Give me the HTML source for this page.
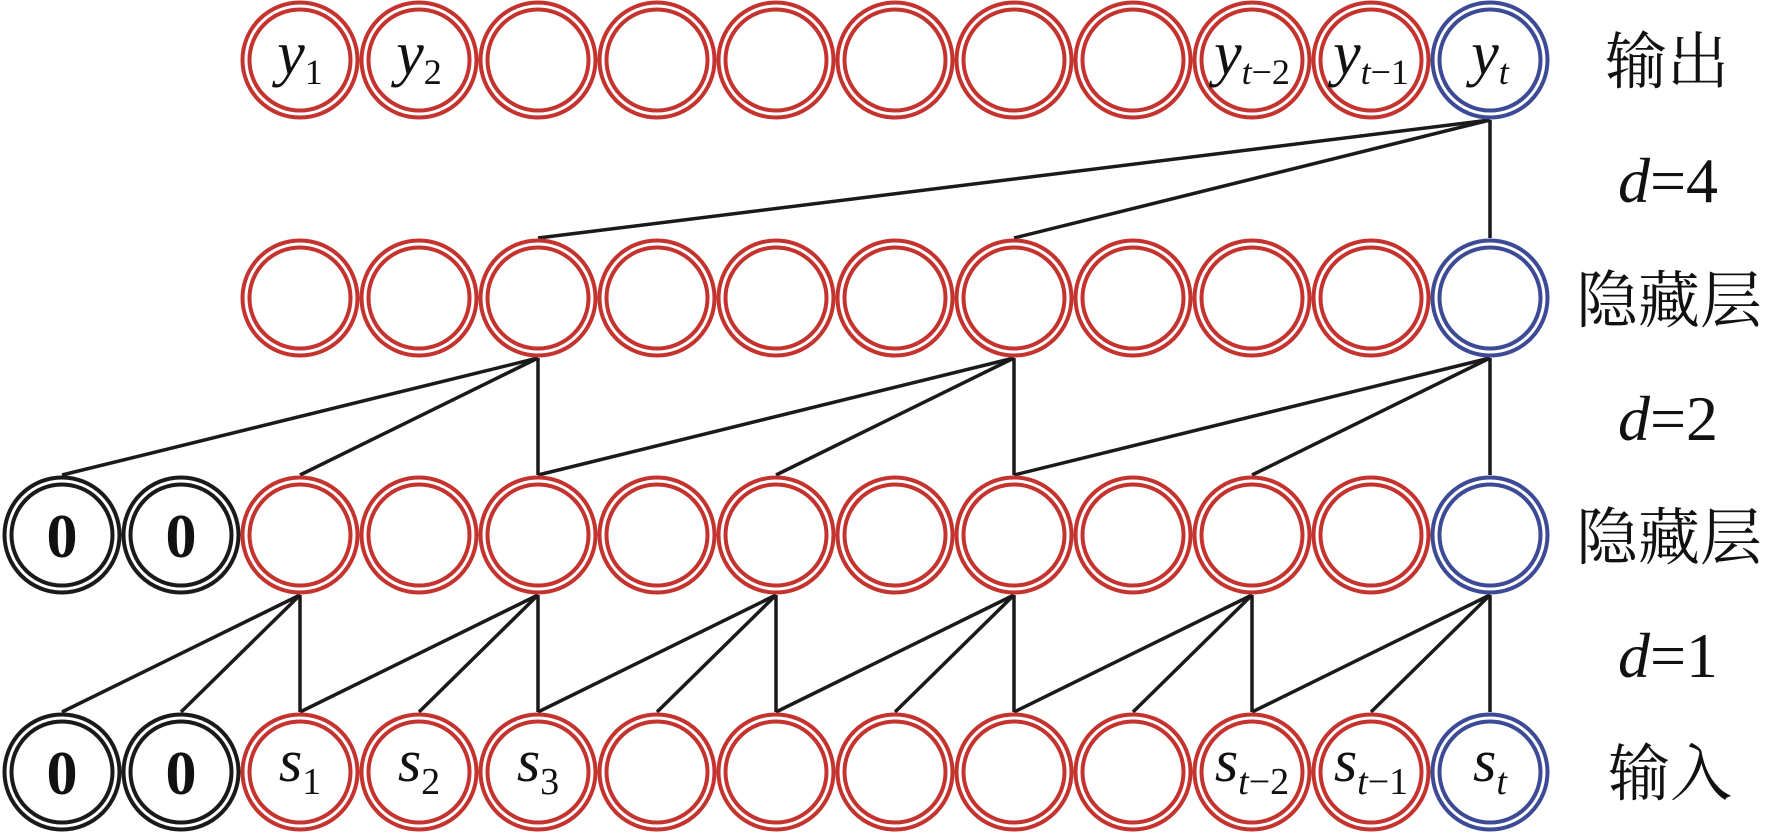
<!DOCTYPE html>
<html><head><meta charset="utf-8"><style>html,body{margin:0;padding:0;background:#fff;}svg{display:block;}</style></head>
<body>
<svg width="1766" height="833" viewBox="0 0 1766 833" xmlns="http://www.w3.org/2000/svg" font-family="'Liberation Serif', serif">
<defs>
<g id="cr"><circle r="57.5" fill="none" stroke="#c4332e" stroke-width="4"/><circle r="50.5" fill="none" stroke="#c4332e" stroke-width="4"/></g>
<g id="cb"><circle r="57.5" fill="none" stroke="#3d4a96" stroke-width="4"/><circle r="50.5" fill="none" stroke="#3d4a96" stroke-width="4"/></g>
<g id="ck"><circle r="57.5" fill="none" stroke="#1a1a1a" stroke-width="4"/><circle r="50.5" fill="none" stroke="#1a1a1a" stroke-width="4"/></g>
</defs>
<g stroke="#1a1a1a" stroke-width="3.5" fill="none">
<line x1="1490" y1="120" x2="538" y2="238"/>
<line x1="1490" y1="120" x2="1014" y2="238"/>
<line x1="1490" y1="120" x2="1490" y2="238"/>
<line x1="538" y1="358" x2="62" y2="475"/>
<line x1="538" y1="358" x2="300" y2="475"/>
<line x1="538" y1="358" x2="538" y2="475"/>
<line x1="1014" y1="358" x2="538" y2="475"/>
<line x1="1014" y1="358" x2="776" y2="475"/>
<line x1="1014" y1="358" x2="1014" y2="475"/>
<line x1="1490" y1="358" x2="1014" y2="475"/>
<line x1="1490" y1="358" x2="1252" y2="475"/>
<line x1="1490" y1="358" x2="1490" y2="475"/>
<line x1="300" y1="595" x2="62" y2="712"/><line x1="300" y1="595" x2="181" y2="712"/><line x1="300" y1="595" x2="300" y2="712"/>
<line x1="538" y1="595" x2="300" y2="712"/><line x1="538" y1="595" x2="419" y2="712"/><line x1="538" y1="595" x2="538" y2="712"/>
<line x1="776" y1="595" x2="538" y2="712"/><line x1="776" y1="595" x2="657" y2="712"/><line x1="776" y1="595" x2="776" y2="712"/>
<line x1="1014" y1="595" x2="776" y2="712"/><line x1="1014" y1="595" x2="895" y2="712"/><line x1="1014" y1="595" x2="1014" y2="712"/>
<line x1="1252" y1="595" x2="1014" y2="712"/><line x1="1252" y1="595" x2="1133" y2="712"/><line x1="1252" y1="595" x2="1252" y2="712"/>
<line x1="1490" y1="595" x2="1252" y2="712"/><line x1="1490" y1="595" x2="1371" y2="712"/><line x1="1490" y1="595" x2="1490" y2="712"/>
</g>
<g>
<use href="#cr" x="300" y="60"/><use href="#cr" x="419" y="60"/><use href="#cr" x="538" y="60"/><use href="#cr" x="657" y="60"/><use href="#cr" x="776" y="60"/><use href="#cr" x="895" y="60"/><use href="#cr" x="1014" y="60"/><use href="#cr" x="1133" y="60"/><use href="#cr" x="1252" y="60"/><use href="#cr" x="1371" y="60"/><use href="#cb" x="1490" y="60"/>
<use href="#cr" x="300" y="298"/><use href="#cr" x="419" y="298"/><use href="#cr" x="538" y="298"/><use href="#cr" x="657" y="298"/><use href="#cr" x="776" y="298"/><use href="#cr" x="895" y="298"/><use href="#cr" x="1014" y="298"/><use href="#cr" x="1133" y="298"/><use href="#cr" x="1252" y="298"/><use href="#cr" x="1371" y="298"/><use href="#cb" x="1490" y="298"/>
<use href="#ck" x="62" y="535"/><use href="#ck" x="181" y="535"/>
<use href="#cr" x="300" y="535"/><use href="#cr" x="419" y="535"/><use href="#cr" x="538" y="535"/><use href="#cr" x="657" y="535"/><use href="#cr" x="776" y="535"/><use href="#cr" x="895" y="535"/><use href="#cr" x="1014" y="535"/><use href="#cr" x="1133" y="535"/><use href="#cr" x="1252" y="535"/><use href="#cr" x="1371" y="535"/><use href="#cb" x="1490" y="535"/>
<use href="#ck" x="62" y="772"/><use href="#ck" x="181" y="772"/>
<use href="#cr" x="300" y="772"/><use href="#cr" x="419" y="772"/><use href="#cr" x="538" y="772"/><use href="#cr" x="657" y="772"/><use href="#cr" x="776" y="772"/><use href="#cr" x="895" y="772"/><use href="#cr" x="1014" y="772"/><use href="#cr" x="1133" y="772"/><use href="#cr" x="1252" y="772"/><use href="#cr" x="1371" y="772"/><use href="#cb" x="1490" y="772"/>
</g>
<g fill="#111" font-size="62" text-anchor="middle">
<text x="300" y="74"><tspan font-style="italic">y</tspan><tspan font-size="36" dy="10">1</tspan></text>
<text x="419" y="74"><tspan font-style="italic">y</tspan><tspan font-size="36" dy="10">2</tspan></text>
<text x="1252" y="74"><tspan font-style="italic">y</tspan><tspan font-size="36" dy="10"><tspan font-style="italic">t</tspan>−2</tspan></text>
<text x="1371" y="74"><tspan font-style="italic">y</tspan><tspan font-size="36" dy="10"><tspan font-style="italic">t</tspan>−1</tspan></text>
<text x="1490" y="74"><tspan font-style="italic">y</tspan><tspan font-size="36" dy="10" font-style="italic">t</tspan></text>
</g>
<g fill="#111" font-size="62" font-weight="bold" text-anchor="middle">
<text x="62" y="557">0</text><text x="181" y="557">0</text>
<text x="62" y="794">0</text><text x="181" y="794">0</text>
</g>
<g fill="#111" font-size="60" text-anchor="middle">
<text x="300" y="781"><tspan font-style="italic">s</tspan><tspan font-size="38" dy="13">1</tspan></text>
<text x="419" y="781"><tspan font-style="italic">s</tspan><tspan font-size="38" dy="13">2</tspan></text>
<text x="538" y="781"><tspan font-style="italic">s</tspan><tspan font-size="38" dy="13">3</tspan></text>
<text x="1252" y="781"><tspan font-style="italic">s</tspan><tspan font-size="38" dy="13"><tspan font-style="italic">t</tspan>−2</tspan></text>
<text x="1371" y="781"><tspan font-style="italic">s</tspan><tspan font-size="38" dy="13"><tspan font-style="italic">t</tspan>−1</tspan></text>
<text x="1490" y="781"><tspan font-style="italic">s</tspan><tspan font-size="38" dy="13" font-style="italic">t</tspan></text>
</g>
<g fill="#111" font-family="'Liberation Serif','Noto Serif CJK SC','Noto Sans CJK SC',serif" font-size="62" text-anchor="middle">
<text x="1667" y="83">输出</text>
<text x="1669" y="322">隐藏层</text>
<text x="1669" y="559">隐藏层</text>
<text x="1670" y="795">输入</text>
</g>
<g fill="#111" font-size="64" text-anchor="middle">
<text x="1668" y="202"><tspan font-style="italic">d</tspan>=4</text>
<text x="1668" y="440"><tspan font-style="italic">d</tspan>=2</text>
<text x="1668" y="677"><tspan font-style="italic">d</tspan>=1</text>
</g>
</svg>
</body></html>
